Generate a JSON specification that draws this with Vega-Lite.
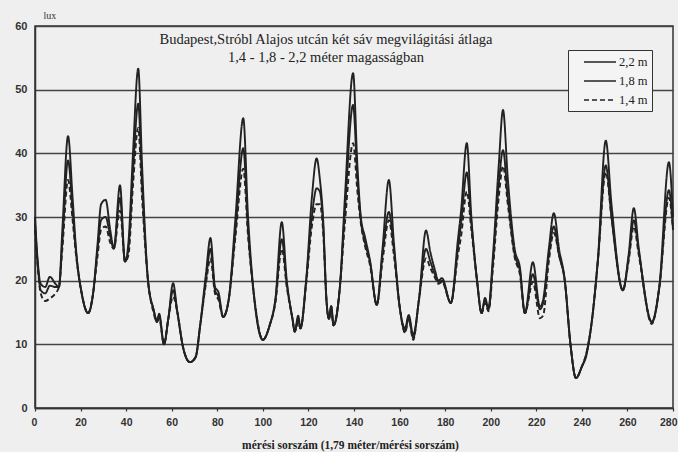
{
  "$schema": "https://vega.github.io/schema/vega-lite/v6.json",
  "width": 638,
  "height": 382,
  "autosize": "none",
  "padding": {"left": 35, "top": 26, "right": 5, "bottom": 44},
  "background": "#efefef",
  "title": {
    "text": ["Budapest,Stróbl Alajos utcán két sáv megvilágitási átlaga", "1,4 - 1,8 - 2,2 méter magasságban"],
    "anchor": "middle",
    "offset": -55,
    "dx": -28,
    "font": "Liberation Serif",
    "fontSize": 14.5,
    "fontWeight": "normal",
    "color": "#222",
    "lineHeight": 18
  },
  "config": {
    "view": {"stroke": "#333", "strokeWidth": 1.5},
    "font": "Liberation Serif"
  },
  "data": {
    "values": [
      {"t": 0, "a": 30, "b": 29, "c": 28},
      {"t": 1, "a": 24, "b": 23.5, "c": 23},
      {"t": 2.5, "a": 19.5, "b": 18.5, "c": 18},
      {"t": 4.5, "a": 19, "b": 18, "c": 16.8},
      {"t": 6.5, "a": 20.6, "b": 19.2, "c": 17.2},
      {"t": 9, "a": 19.5, "b": 19, "c": 18},
      {"t": 10.5, "a": 19, "b": 19, "c": 19},
      {"t": 12, "a": 28, "b": 26, "c": 25},
      {"t": 14.5, "a": 42.7, "b": 38.9, "c": 35.8},
      {"t": 16.5, "a": 33, "b": 31, "c": 29.5},
      {"t": 18, "a": 25, "b": 24.5, "c": 24},
      {"t": 20.5, "a": 18, "b": 18, "c": 18},
      {"t": 23.3, "a": 14.9, "b": 14.9, "c": 14.9},
      {"t": 25.5, "a": 18, "b": 18, "c": 18},
      {"t": 27.5, "a": 26, "b": 25, "c": 24},
      {"t": 29, "a": 32, "b": 29.5, "c": 28},
      {"t": 31, "a": 32.7, "b": 30, "c": 28.5},
      {"t": 33, "a": 28, "b": 27, "c": 26},
      {"t": 34.6, "a": 25.1, "b": 25.1, "c": 25},
      {"t": 37.3, "a": 35, "b": 33, "c": 31},
      {"t": 39.5, "a": 23, "b": 23, "c": 23},
      {"t": 41, "a": 26, "b": 25, "c": 24},
      {"t": 43, "a": 40, "b": 37, "c": 35},
      {"t": 45.3, "a": 53.3, "b": 47.8, "c": 44},
      {"t": 47, "a": 38, "b": 35, "c": 33},
      {"t": 49.6, "a": 20, "b": 20, "c": 20},
      {"t": 52, "a": 15.5, "b": 15.5, "c": 15},
      {"t": 53.5, "a": 13.5, "b": 13.8, "c": 13.5},
      {"t": 54.5, "a": 14.8, "b": 14.5, "c": 14},
      {"t": 56.6, "a": 10, "b": 10, "c": 10},
      {"t": 58.5, "a": 14, "b": 14, "c": 14},
      {"t": 60.6, "a": 19.6, "b": 18.5, "c": 17.5},
      {"t": 62.5, "a": 15, "b": 15, "c": 15},
      {"t": 65, "a": 9.5, "b": 9.5, "c": 9.5},
      {"t": 68, "a": 7.2, "b": 7.2, "c": 7.2},
      {"t": 70.5, "a": 8, "b": 8, "c": 8},
      {"t": 72.5, "a": 13, "b": 13, "c": 13},
      {"t": 75, "a": 21, "b": 20, "c": 19.5},
      {"t": 77, "a": 26.7, "b": 25, "c": 23.5},
      {"t": 79, "a": 19, "b": 18.5, "c": 18},
      {"t": 80.5, "a": 18.2, "b": 17.5, "c": 17},
      {"t": 82.6, "a": 14.3, "b": 14.3, "c": 14.3},
      {"t": 85, "a": 17, "b": 17, "c": 17},
      {"t": 88, "a": 30, "b": 28, "c": 27},
      {"t": 91.4, "a": 45.5, "b": 40.8, "c": 37.6},
      {"t": 93.5, "a": 30, "b": 28, "c": 27},
      {"t": 96, "a": 18, "b": 18, "c": 18},
      {"t": 100, "a": 10.7, "b": 10.7, "c": 10.7},
      {"t": 103, "a": 13, "b": 13, "c": 13},
      {"t": 105.5, "a": 17, "b": 17, "c": 16.5},
      {"t": 108.3, "a": 29.2, "b": 26.5, "c": 25},
      {"t": 110.5, "a": 20, "b": 19.5, "c": 19},
      {"t": 113, "a": 14, "b": 14, "c": 14},
      {"t": 114, "a": 12, "b": 12, "c": 12},
      {"t": 115.5, "a": 14.5, "b": 14, "c": 13.5},
      {"t": 116.5, "a": 12.5, "b": 12.5, "c": 12.5},
      {"t": 119, "a": 20, "b": 20, "c": 19.5},
      {"t": 121.5, "a": 33, "b": 30, "c": 28.5},
      {"t": 123.6, "a": 39.2, "b": 34.5, "c": 32},
      {"t": 125, "a": 36, "b": 34, "c": 32},
      {"t": 126.4, "a": 30, "b": 29, "c": 28},
      {"t": 128, "a": 16.5, "b": 16.5, "c": 16.5},
      {"t": 129, "a": 14, "b": 14, "c": 14},
      {"t": 130, "a": 16, "b": 16, "c": 15.5},
      {"t": 131, "a": 13, "b": 13, "c": 13},
      {"t": 133.8, "a": 19, "b": 19, "c": 19},
      {"t": 136, "a": 33, "b": 31, "c": 29},
      {"t": 139.6, "a": 52.6, "b": 47.6, "c": 41.6},
      {"t": 141.5, "a": 38, "b": 36, "c": 34},
      {"t": 143, "a": 30, "b": 29.5, "c": 29},
      {"t": 144.8, "a": 26.9, "b": 26, "c": 25.5},
      {"t": 147, "a": 23.2, "b": 23, "c": 22.5},
      {"t": 150, "a": 16.2, "b": 16.2, "c": 16.2},
      {"t": 152.5, "a": 25, "b": 24, "c": 23},
      {"t": 155.3, "a": 35.8, "b": 30.8, "c": 29.5},
      {"t": 157.5, "a": 26, "b": 25, "c": 24},
      {"t": 160, "a": 16, "b": 16, "c": 16},
      {"t": 162.4, "a": 12.5, "b": 12, "c": 11.8},
      {"t": 164, "a": 14.6, "b": 14.3, "c": 14},
      {"t": 166, "a": 11.5, "b": 11, "c": 10.7},
      {"t": 168.5, "a": 17, "b": 17, "c": 17},
      {"t": 171.6, "a": 27.9, "b": 25, "c": 23.5},
      {"t": 173.5, "a": 24.5, "b": 23, "c": 22},
      {"t": 175.5, "a": 21.7, "b": 21, "c": 20.5},
      {"t": 177, "a": 20, "b": 19.8, "c": 19.5},
      {"t": 178.6, "a": 20.4, "b": 20, "c": 19.8},
      {"t": 182.5, "a": 16.5, "b": 16.5, "c": 16.5},
      {"t": 185.6, "a": 26.4, "b": 25, "c": 24},
      {"t": 187, "a": 31, "b": 29, "c": 27},
      {"t": 189.5, "a": 41.6, "b": 37, "c": 34},
      {"t": 191.5, "a": 30, "b": 29, "c": 28},
      {"t": 194, "a": 20, "b": 20, "c": 20},
      {"t": 196, "a": 14.9, "b": 14.9, "c": 14.9},
      {"t": 197.5, "a": 17.3, "b": 17, "c": 16.5},
      {"t": 199, "a": 15.7, "b": 15.5, "c": 15.2},
      {"t": 201, "a": 24, "b": 23, "c": 22},
      {"t": 203.5, "a": 38, "b": 35, "c": 33},
      {"t": 205.4, "a": 46.8, "b": 40.5, "c": 38},
      {"t": 207.5, "a": 36, "b": 33, "c": 32},
      {"t": 210.6, "a": 24.8, "b": 24, "c": 23.5},
      {"t": 212.8, "a": 22.1, "b": 21.5, "c": 21},
      {"t": 215, "a": 14.9, "b": 14.9, "c": 14.9},
      {"t": 218.5, "a": 22.9, "b": 21, "c": 19.8},
      {"t": 221.6, "a": 15.9, "b": 15.5, "c": 14.1},
      {"t": 223, "a": 17, "b": 16.5, "c": 14.5},
      {"t": 225.5, "a": 25, "b": 24, "c": 23},
      {"t": 227.7, "a": 30.6, "b": 28.5, "c": 27.5},
      {"t": 230, "a": 25, "b": 24, "c": 24},
      {"t": 232.5, "a": 20.1, "b": 20, "c": 20},
      {"t": 235, "a": 10, "b": 10, "c": 10},
      {"t": 237.4, "a": 4.7, "b": 4.7, "c": 4.7},
      {"t": 240, "a": 6.5, "b": 6.5, "c": 6.5},
      {"t": 242, "a": 8.6, "b": 8.3, "c": 8.6},
      {"t": 244.5, "a": 14, "b": 14, "c": 14},
      {"t": 247, "a": 23.2, "b": 23, "c": 23},
      {"t": 250.5, "a": 42, "b": 38.1, "c": 37},
      {"t": 253, "a": 32, "b": 30, "c": 30},
      {"t": 258, "a": 18.5, "b": 18.5, "c": 18.5},
      {"t": 260.5, "a": 24, "b": 23.5, "c": 23},
      {"t": 262.8, "a": 31.4, "b": 29.5, "c": 28.5},
      {"t": 265, "a": 25, "b": 24.5, "c": 24},
      {"t": 270.7, "a": 13.5, "b": 13.5, "c": 13.2},
      {"t": 274, "a": 19, "b": 19, "c": 19},
      {"t": 278.2, "a": 38.6, "b": 34.2, "c": 33},
      {"t": 280, "a": 30, "b": 28, "c": 28}
    ]
  },
  "transform": [
    {"fold": ["a", "b", "c"], "as": ["key", "lux"]},
    {"lookup": "key", "from": {"data": {"values": [{"key": "a", "s": "2,2 m"}, {"key": "b", "s": "1,8 m"}, {"key": "c", "s": "1,4 m"}]}, "key": "key", "fields": ["s"]}}
  ],
  "mark": {"type": "line", "interpolate": "monotone", "color": "#222", "strokeWidth": 1.9},
  "encoding": {
    "x": {
      "field": "t", "type": "quantitative",
      "scale": {"domain": [0, 280], "nice": false},
      "axis": {
        "values": [0, 20, 40, 60, 80, 100, 120, 140, 160, 180, 200, 220, 240, 260, 280],
        "grid": false,
        "title": "mérési sorszám (1,79 méter/mérési sorszám)",
        "titleFont": "Liberation Serif", "titleFontSize": 11.5, "titleFontWeight": "bold",
        "titleColor": "#222", "titlePadding": 12, "titleX": 315,
        "labelFont": "Liberation Sans", "labelFontSize": 10.5, "labelFontWeight": "bold",
        "labelColor": "#333", "labelPadding": 6,
        "domainColor": "#333", "domainWidth": 1.5,
        "tickColor": "#333", "tickSize": 3, "tickWidth": 1.2,
        "labelFlush": true, "labelFlushOffset": 4, "labelOverlap": false
      }
    },
    "y": {
      "field": "lux", "type": "quantitative",
      "scale": {"domain": [0, 60], "nice": false},
      "axis": {
        "values": [0, 10, 20, 30, 40, 50, 60],
        "grid": true, "gridColor": "#444", "gridWidth": 1.4,
        "ticks": false,
        "title": "lux", "titleAngle": 0, "titleX": 8, "titleY": -6,
        "titleAlign": "left", "titleBaseline": "bottom",
        "titleFont": "Liberation Serif", "titleFontSize": 10, "titleFontWeight": "normal", "titleColor": "#333",
        "labelFont": "Liberation Sans", "labelFontSize": 11, "labelFontWeight": "bold",
        "labelColor": "#333", "labelPadding": 8,
        "domainColor": "#333", "domainWidth": 1.5
      }
    },
    "detail": {"field": "s"},
    "strokeDash": {
      "field": "s", "type": "nominal",
      "scale": {"domain": ["2,2 m", "1,8 m", "1,4 m"], "range": [[1, 0], [1, 0], [5, 3]]},
      "legend": {
        "orient": "none", "legendX": 533, "legendY": 24,
        "title": null,
        "fillColor": "#f4f4f4", "strokeColor": "#333",
        "padding": 4,
        "symbolType": "M0.57,0H5.14", "symbolSize": 196, "symbolStrokeWidth": 1.6,
        "symbolStrokeColor": "#222",
        "labelFont": "Liberation Serif", "labelFontSize": 12.5, "labelColor": "#222",
        "labelOffset": 31, "rowPadding": 4
      }
    }
  }
}
